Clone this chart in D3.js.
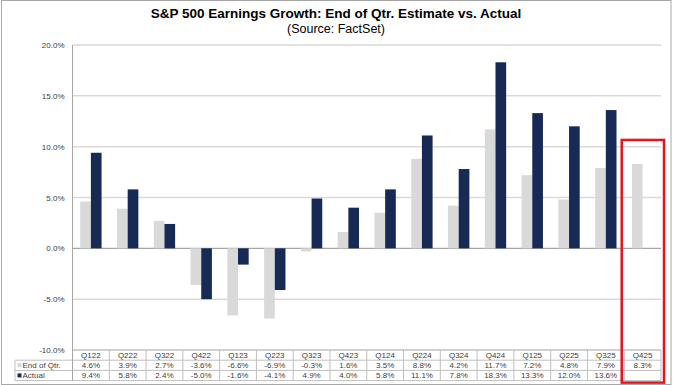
<!DOCTYPE html>
<html>
<head>
<meta charset="utf-8">
<script src="https://cdn.jsdelivr.net/npm/d3@7"></script>
<style>
  body { margin: 0; background: #fff; }
  svg { font-family: "Liberation Sans", Arial, sans-serif; }
</style>
</head>
<body>
<div id="chart"></div>
<script>
   var quarters = ["Q122", "Q222", "Q322", "Q422", "Q123", "Q223", "Q323", "Q423",
       "Q124", "Q224", "Q324", "Q424", "Q125", "Q225", "Q325", "Q425"];
   var endOfQtr = [4.6, 3.9, 2.7, -3.6, -6.6, -6.9, -0.3, 1.6, 3.5, 8.8, 4.2, 11.7, 7.2, 4.8, 7.9, 8.3];
   var actual = [9.4, 5.8, 2.4, -5.0, -1.6, -4.1, 4.9, 4.0, 5.8, 11.1, 7.8, 18.3, 13.3, 12.0, 13.6, null];
   var yTicks = [-10, -5, 0, 5, 10, 15, 20];

   var svgWidth = 673;
   var svgHeight = 385;

   var margin = { top: 45, right: 12, bottom: 35, left: 72.5 };
   var width = svgWidth - margin.left - margin.right;
   var height = svgHeight - margin.top - margin.bottom;

   var svg = d3.select("#chart")
       .append("svg")
       .attr("width", svgWidth)
       .attr("height", svgHeight);

   // outer chart border
   svg.append("rect")
       .attr("x", 1.5).attr("y", 0.5)
       .attr("width", 669.5).attr("height", 384)
       .attr("fill", "none")
       .attr("stroke", "#a6a6a6");

   svg.append("text")
       .attr("x", 336).attr("y", 18)
       .attr("text-anchor", "middle")
       .style("font-size", "13.5px").style("font-weight", "bold")
       .text("S&P 500 Earnings Growth: End of Qtr. Estimate vs. Actual");

   svg.append("text")
       .attr("x", 336).attr("y", 33)
       .attr("text-anchor", "middle")
       .style("font-size", "12.5px")
       .text("(Source: FactSet)");

   var chartGroup = svg.append("g")
       .attr("transform", `translate(${margin.left}, ${margin.top})`);

   var x = d3.scaleBand()
       .domain(quarters)
       .range([0, width]);

   var y = d3.scaleLinear()
       .domain([-10, 20])
       .range([height, 0]);

   var barW = x.bandwidth() * 0.29;

   // gridlines
   chartGroup.selectAll(".grid")
       .data(yTicks)
       .enter()
       .append("line")
       .attr("x1", 0).attr("x2", width)
       .attr("y1", d => y(d)).attr("y2", d => y(d))
       .attr("stroke", d => d === 0 ? "#a6a6a6" : "#d9d9d9")
       .attr("stroke-width", d => d === 0 ? 1.3 : 1.5);

   // left axis with labels
   var leftAxis = d3.axisLeft(y)
       .tickValues(yTicks)
       .tickSize(0)
       .tickPadding(8)
       .tickFormat(d => d.toFixed(1) + "%");

   var axisG = chartGroup.append("g").call(leftAxis);
   axisG.select(".domain").remove();
   axisG.selectAll("text")
       .style("font-size", "8px")
       .style("font-family", "Liberation Sans, Arial, sans-serif")
       .attr("fill", "#404040");

   // bars
   chartGroup.selectAll(".est")
       .data(quarters)
       .enter()
       .append("rect")
       .attr("x", d => x(d) + x.bandwidth() / 2 - barW)
       .attr("width", barW)
       .attr("y", (d, i) => y(Math.max(0, endOfQtr[i])))
       .attr("height", (d, i) => Math.abs(y(endOfQtr[i]) - y(0)))
       .attr("fill", "#d9d9d9");

   chartGroup.selectAll(".act")
       .data(quarters.filter((d, i) => actual[i] !== null))
       .enter()
       .append("rect")
       .attr("x", d => x(d) + x.bandwidth() / 2)
       .attr("width", barW)
       .attr("y", (d, i) => y(Math.max(0, actual[i])))
       .attr("height", (d, i) => Math.abs(y(actual[i]) - y(0)))
       .attr("fill", "#172a56");

   // data table
   var rowH = 10.2;
   var tableTop = height;
   var lineColor = "#bfbfbf";
   var table = chartGroup.append("g");

   // horizontal lines across the value columns
   [0, 1, 2, 3].forEach(function(r) {
       table.append("line")
           .attr("x1", r === 0 ? 0 : -57.5).attr("x2", width)
           .attr("y1", tableTop + r * rowH).attr("y2", tableTop + r * rowH)
           .attr("stroke", lineColor);
   });
   // vertical column separators
   quarters.forEach(function(q, i) {
       table.append("line")
           .attr("x1", x(q) + x.bandwidth()).attr("x2", x(q) + x.bandwidth())
           .attr("y1", tableTop).attr("y2", tableTop + 3 * rowH)
           .attr("stroke", lineColor);
   });
   table.append("line")
       .attr("x1", -57.5).attr("x2", -57.5)
       .attr("y1", tableTop + rowH).attr("y2", tableTop + 3 * rowH)
       .attr("stroke", lineColor);

   var rows = [quarters, endOfQtr.map(v => v.toFixed(1) + "%"),
       actual.map(v => v === null ? "" : v.toFixed(1) + "%")];
   rows.forEach(function(vals, r) {
       table.selectAll(".r" + r)
           .data(vals)
           .enter()
           .append("text")
           .attr("x", (d, i) => x(quarters[i]) + x.bandwidth() / 2)
           .attr("y", tableTop + r * rowH + 7.8)
           .attr("text-anchor", "middle")
           .style("font-size", "8px")
           .attr("fill", "#404040")
           .text(d => d);
   });

   // legend keys in table
   var keys = [{ name: "End of Qtr.", color: "#d9d9d9" }, { name: "Actual", color: "#172a56" }];
   keys.forEach(function(k, i) {
       var ry = tableTop + (i + 1) * rowH;
       table.append("rect")
           .attr("x", -55).attr("y", ry + 3)
           .attr("width", 4).attr("height", 4)
           .attr("fill", k.color);
       table.append("text")
           .attr("x", -50).attr("y", ry + 7.8)
           .style("font-size", "8px")
           .attr("fill", "#404040")
           .text(k.name);
   });

   // left axis line
   chartGroup.append("line")
       .attr("x1", 0).attr("x2", 0)
       .attr("y1", 0).attr("y2", tableTop + 3 * rowH)
       .attr("stroke", "#a6a6a6");

   // red highlight box around last quarter
   var last = quarters[quarters.length - 1];
   var boxTop = y(endOfQtr[endOfQtr.length - 1]) - 24;
   chartGroup.append("rect")
       .attr("x", x(last) - 2.5)
       .attr("y", boxTop)
       .attr("width", x.bandwidth() + 5.5)
       .attr("height", tableTop + 3 * rowH + 2 - boxTop)
       .attr("fill", "none")
       .attr("stroke", "#e8141b")
       .attr("stroke-width", 2.5);
</script>
</body>
</html>
